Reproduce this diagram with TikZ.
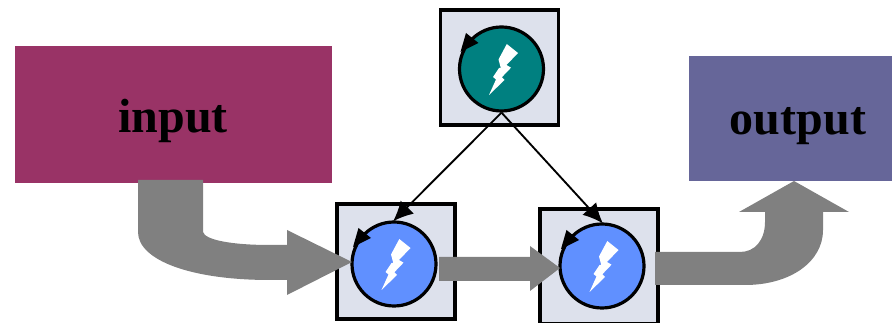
\documentclass[tikz,border=0pt]{standalone}
\usepackage{fontspec}
\setmainfont{Liberation Serif}
\usetikzlibrary{arrows.meta}
\definecolor{inputc}{HTML}{993366}
\definecolor{outputc}{HTML}{666699}
\definecolor{boxc}{HTML}{DDE1EC}
\definecolor{tealc}{HTML}{008080}
\definecolor{bluec}{HTML}{6090FF}
\definecolor{greyc}{HTML}{808080}
\tikzset{
  px/.style={x=0.75pt,y=-0.75pt},
  iobox/.style={rectangle,inner sep=0pt},
  iotext/.style={inner sep=0pt,text=black,font=\fontsize{36}{40}\selectfont\bfseries},
  taskbox/.style={rectangle,draw=black,line width=2.4pt,fill=boxc,inner sep=0pt,minimum width=88.5pt,minimum height=86.25pt},
  disc/.style={circle,draw=black,line width=2.4pt,inner sep=0pt,minimum size=63pt},
  bigarrow/.style={fill=greyc,draw=none},
  link/.style={draw=black,line width=1.4pt,-{Latex[length=15pt,width=14pt]},shorten >=-1pt}
}
\newcommand{\discmarks}[1]{%
  \begin{scope}[shift={(#1)}]
    \fill[black] (-41,-17) -- (-35.5,-36) -- (-23,-26) -- cycle;
    \fill[white] (5.3,-25) -- (16.5,-16) -- (5,-4) -- (9.5,-1.3) -- (0.3,8.3) -- (3,11) -- (-12.5,26)
      -- (-5.5,10.5) -- (-8.5,8) -- (-2.5,-1) -- (-0.7,-1) -- (-3,-9.5) -- cycle;
  \end{scope}}
\begin{document}
\begin{tikzpicture}[px]
\useasboundingbox (0,0) rectangle (892,323);
\node[iobox,fill=inputc,minimum width=237.75pt,minimum height=102.75pt] (in) at (173.5,114.5) {};
\node[iobox,fill=outputc,minimum width=152.25pt,minimum height=93.75pt] (out) at (790.5,118.5) {};
\node[iotext] (intext) at (173,121) {input};
\node[iotext] (outtext) at (798,126) {output};
\node[taskbox] (tb) at (499.5,67.5) {};
\node[taskbox] (lb) at (396,261.5) {};
\node[taskbox] (rb) at (599,266.5) {};
\node[disc,fill=tealc] (tc) at (501.5,69) {};
\node[disc,fill=bluec] (lc) at (394,264) {};
\node[disc,fill=bluec] (rc) at (602,266) {};
\discmarks{501.5,69}
\discmarks{394,264}
\discmarks{602,266}
\draw[link] (tc.south) -- (lc.north);
\draw[link] (tc.south) -- (rc.north);
\fill[bigarrow] (138,180) -- (203,180) -- (203,232) .. controls (205,240) and (232,245) .. (270,245)
  -- (287,245) -- (287,230) -- (352,262) -- (287,295) -- (287,280) -- (270,280)
  .. controls (190,280) and (138,260) .. (138,232) -- cycle;
\fill[bigarrow] (439,257) -- (530,257) -- (530,246) -- (560,268) -- (530,291) -- (530,281) -- (439,281) -- cycle;
\fill[bigarrow] (655,252) -- (740,252) .. controls (755,252) and (765,240) .. (765,222) -- (765,212)
  -- (739,212) -- (794,181) -- (849,212) -- (823,212) -- (823,230)
  .. controls (823,262) and (790,285) .. (745,285) -- (655,285) -- cycle;
\end{tikzpicture}
\end{document}
